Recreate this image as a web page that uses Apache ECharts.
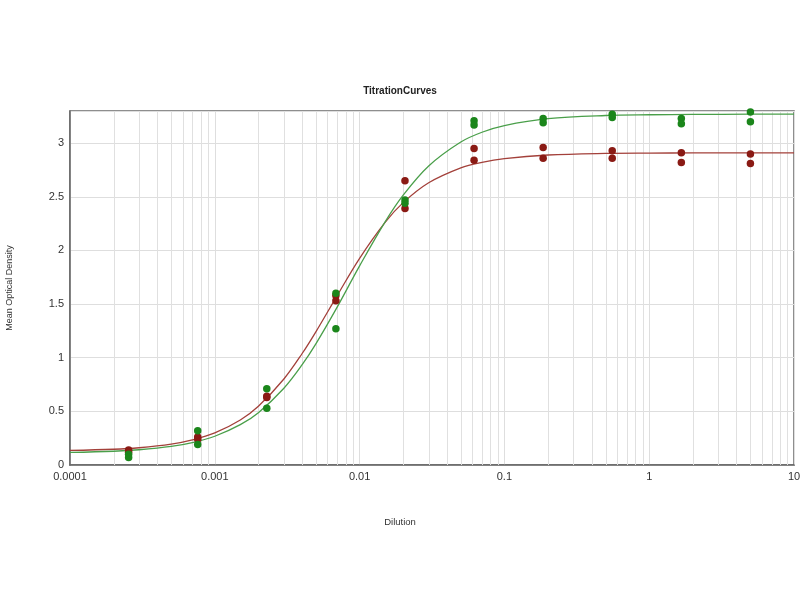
<!DOCTYPE html>
<html>
<head>
<meta charset="utf-8">
<script src="https://cdn.jsdelivr.net/npm/echarts@6/dist/echarts.min.js"></script>
<style>html,body{margin:0;padding:0;background:#fff;}#c{width:800px;height:600px;}</style>
</head>
<body>
<div id="c"></div>
<script>
// Dilutions (x) of the measured points
var dilutions = [5, 1.667, 0.5556, 0.1852, 0.06173, 0.02058, 0.006859, 0.002286, 0.000762, 0.000254];
// Replicate readings (Mean Optical Density)
var redRep1   = [2.90, 2.91, 2.93, 2.96, 2.95, 2.65, 1.58, 0.64, 0.26, 0.14];
var redRep2   = [2.81, 2.82, 2.86, 2.86, 2.84, 2.39, 1.53, 0.63, 0.24, 0.12];
var greenRep1 = [3.29, 3.23, 3.27, 3.23, 3.21, 2.47, 1.60, 0.71, 0.32, 0.10];
var greenRep2 = [3.20, 3.18, 3.24, 3.19, 3.17, 2.44, 1.27, 0.53, 0.19, 0.07];

// Fitted curves
var curveX     = [0.0001, 0.0002, 0.0003, 0.0005, 0.0007, 0.001, 0.0015, 0.002, 0.003, 0.004, 0.005, 0.007, 0.01, 0.015, 0.02, 0.03, 0.05, 0.07, 0.1, 0.2, 0.5, 1, 2, 5, 10];
var redCurve   = [0.136, 0.147, 0.161, 0.194, 0.234, 0.299, 0.420, 0.548, 0.802, 1.037, 1.244, 1.579, 1.927, 2.262, 2.446, 2.631, 2.770, 2.822, 2.857, 2.890, 2.905, 2.908, 2.909, 2.910, 2.910];
var greenCurve = [0.117, 0.128, 0.142, 0.173, 0.209, 0.268, 0.376, 0.488, 0.716, 0.933, 1.132, 1.472, 1.856, 2.267, 2.516, 2.788, 3.011, 3.102, 3.164, 3.228, 3.258, 3.265, 3.268, 3.270, 3.270];

// Minor log grid positions
var minorGridX = [0.0002,0.0003,0.0004,0.0005,0.0006,0.0007,0.0008,0.0009,
                  0.002,0.003,0.004,0.005,0.006,0.007,0.008,0.009,
                  0.02,0.03,0.04,0.05,0.06,0.07,0.08,0.09,
                  0.2,0.3,0.4,0.5,0.6,0.7,0.8,0.9,
                  2,3,4,5,6,7,8,9];

var titleText = 'TitrationCurves';
var xName = 'Dilution';
var yName = 'Mean Optical Density';
var yMin = 0, yMax = 3.3;

function pairs(xs, ys){ return xs.map(function(x,i){ return [x, ys[i]]; }); }

var chart = echarts.init(document.getElementById('c'), null, {renderer:'canvas'});
var RED_PT = '#8a1a14', GREEN_PT = '#1b861b';
var RED_LN = '#a3403a', GREEN_LN = '#4a9f4a';

chart.setOption({
  animation: false,
  backgroundColor: '#fff',
  title: [
    {text: titleText, left: 'center', top: 81, textStyle: {fontFamily: 'Liberation Sans', fontSize: 10, fontWeight: 'bold', color: '#222'}},
    {text: xName, left: 'center', top: 512, textStyle: {fontFamily: 'Liberation Sans', fontSize: 9.5, fontWeight: 'normal', color: '#333'}}
  ],
  grid: {left: 70, right: 6, top: 111, bottom: 135, containLabel: false, outerBoundsMode: 'none',
    show: true, borderColor: '#6a6a6a', borderWidth: 1.5, backgroundColor: 'transparent'},
  xAxis: {
    type: 'log', logBase: 10, min: 0.0001, max: 10,
    axisLine: {show: true, lineStyle: {color: '#666', width: 1.5}},
    axisTick: {show: false},
    axisLabel: {fontFamily: 'Liberation Sans', fontSize: 11, color: '#333', margin: 6,
      formatter: function(v){ return String(parseFloat(Number(v).toPrecision(4))); }},
    splitLine: {show: true, lineStyle: {color: '#dedede', width: 1}}
  },
  yAxis: {
    type: 'value', min: yMin, max: yMax, interval: 0.5,
    name: yName, nameLocation: 'middle', nameGap: 56, nameRotate: 90,
    nameTextStyle: {fontFamily: 'Liberation Sans', fontSize: 9, color: '#333'},
    axisLine: {show: true, lineStyle: {color: '#666', width: 1.5}},
    axisTick: {show: false},
    axisLabel: {fontFamily: 'Liberation Sans', fontSize: 11, color: '#333', margin: 6, showMaxLabel: false},
    splitLine: {show: true, lineStyle: {color: '#dedede', width: 1}}
  },
  series: [
    {
      type: 'custom', silent: true, z: 1,
      data: minorGridX.map(function(v){ return [v]; }),
      clip: true,
      renderItem: function(params, api){
        var v = api.value(0);
        var p0 = api.coord([v, yMin]);
        var p1 = api.coord([v, yMax]);
        var x = Math.round(p0[0]) + 0.5;
        return {type: 'line', shape: {x1: x, y1: p0[1], x2: x, y2: p1[1]},
          style: {stroke: '#e0e0e0', lineWidth: 1}};
      }
    },
    {type: 'line', data: pairs(curveX, redCurve), smooth: 0.35, showSymbol: false, symbol: 'none',
      lineStyle: {color: RED_LN, width: 1.3}, z: 3},
    {type: 'line', data: pairs(curveX, greenCurve), smooth: 0.35, showSymbol: false, symbol: 'none',
      lineStyle: {color: GREEN_LN, width: 1.3}, z: 3},
    {type: 'scatter', data: pairs(dilutions, redRep1), symbolSize: 7.5, itemStyle: {color: RED_PT, opacity: 1}, z: 4},
    {type: 'scatter', data: pairs(dilutions, redRep2), symbolSize: 7.5, itemStyle: {color: RED_PT, opacity: 1}, z: 4},
    {type: 'scatter', data: pairs(dilutions, greenRep1), symbolSize: 7.5, itemStyle: {color: GREEN_PT, opacity: 1}, z: 5},
    {type: 'scatter', data: pairs(dilutions, greenRep2), symbolSize: 7.5, itemStyle: {color: GREEN_PT, opacity: 1}, z: 5}
  ]
});
</script>
</body>
</html>
